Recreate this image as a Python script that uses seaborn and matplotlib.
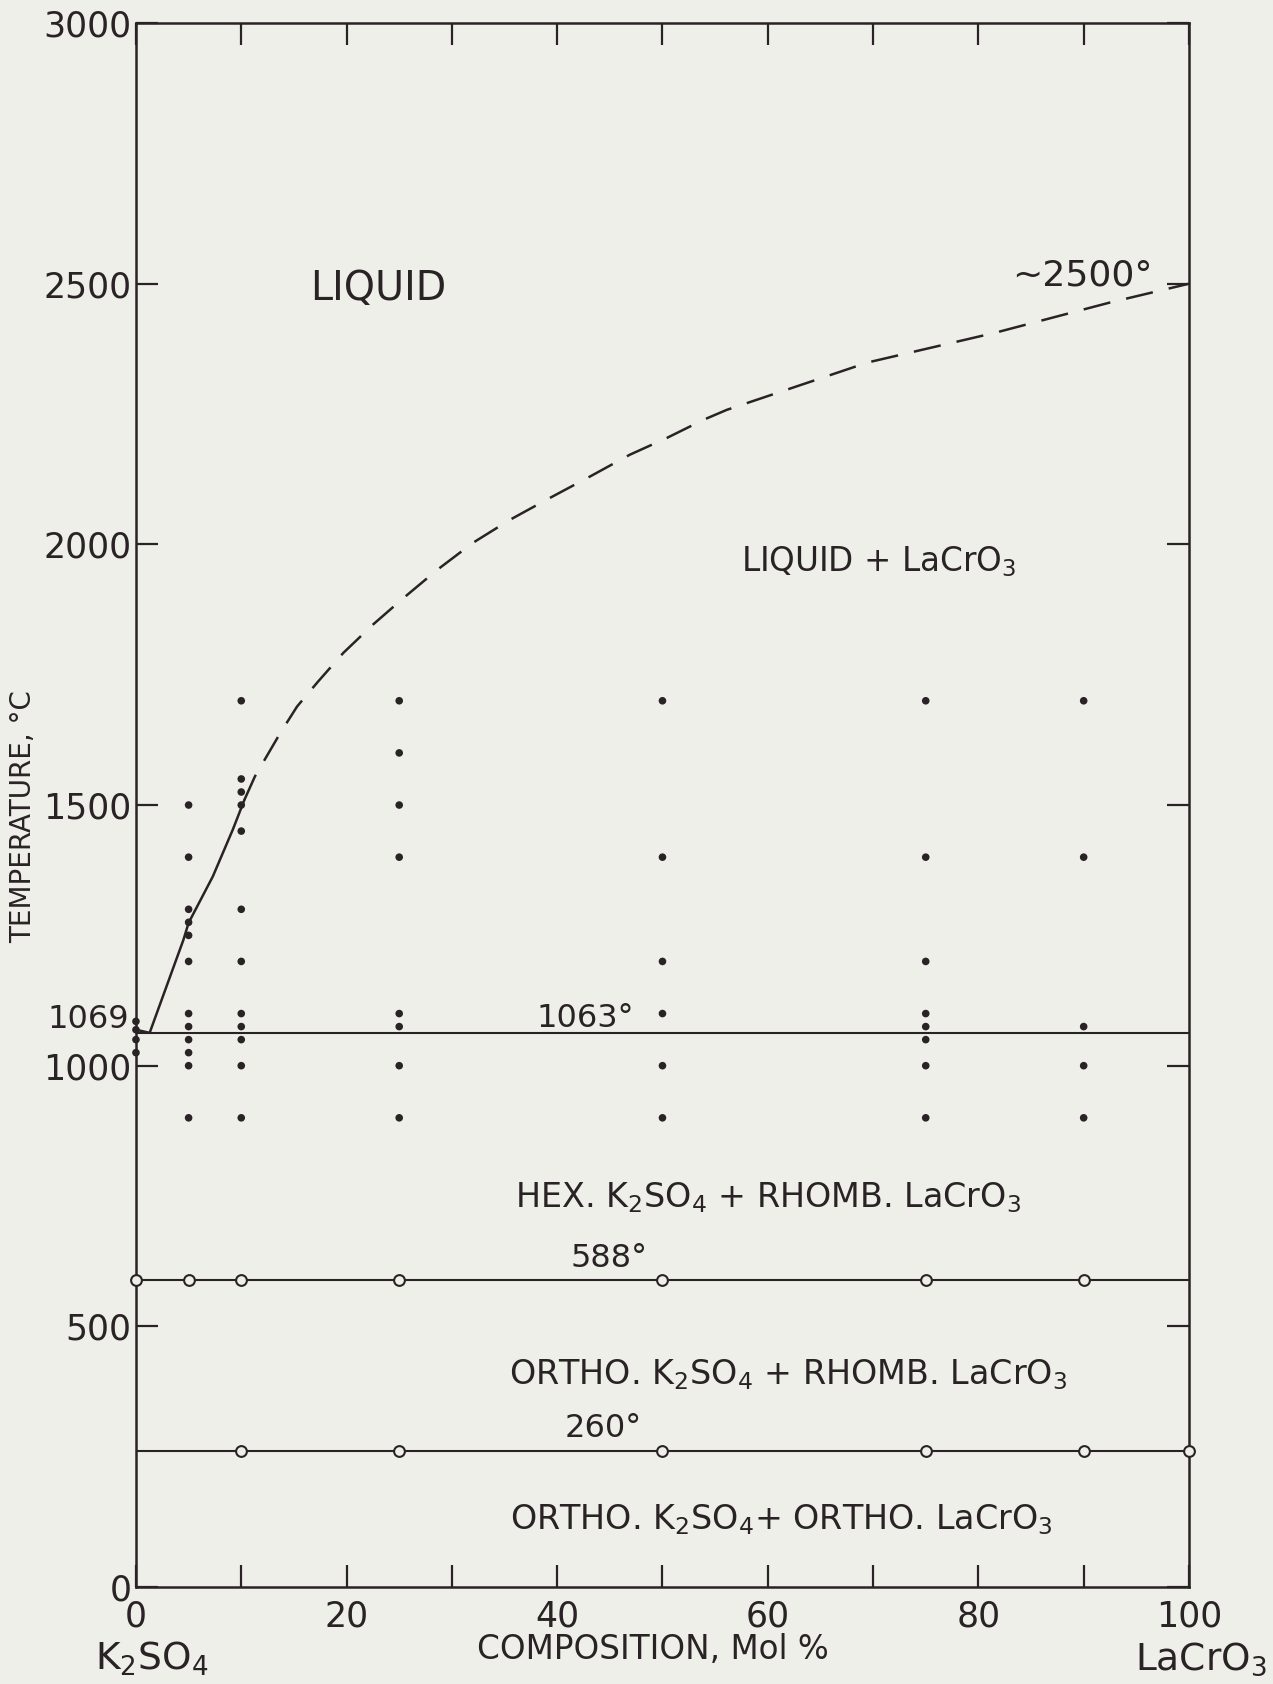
import matplotlib
matplotlib.use("Agg")
import matplotlib.pyplot as plt
import pandas as pd
import seaborn as sns

# Quench-run temperatures (deg C) at each composition (mol % LaCrO3)
comp_levels = [0, 5, 10, 25, 50, 75, 90]
runs_0 = [1025, 1050, 1069, 1085]
runs_5 = [900, 1000, 1025, 1050, 1075, 1100, 1200, 1250, 1275, 1300, 1400, 1500]
runs_10 = [900, 1000, 1050, 1075, 1100, 1200, 1300, 1450, 1500, 1525, 1550, 1700]
runs_25 = [900, 1000, 1075, 1100, 1400, 1500, 1600, 1700]
runs_50 = [900, 1000, 1100, 1200, 1400, 1700]
runs_75 = [900, 1000, 1050, 1075, 1100, 1200, 1400, 1700]
runs_90 = [900, 1000, 1075, 1400, 1700]

# Liquidus: measured part (solid) and estimated part (dashed)
liq_solid_x = [0, 1.3, 4.5, 5.0, 7.3, 9.2, 10.3]
liq_solid_t = [1069, 1063, 1241, 1274, 1363, 1453, 1510]
liq_est_x = [10.3, 11.3, 13.7, 15.3, 17.3, 19.7, 22.5, 25.4, 28.6, 32.0, 35.5,
             39.3, 43.1, 46.9, 50.4, 53.9, 56.1, 69.5, 81.6, 92.5, 100]
liq_est_t = [1510, 1555, 1638, 1689, 1737, 1792, 1846, 1897, 1951, 2003, 2047,
             2089, 2130, 2172, 2204, 2239, 2258, 2349, 2406, 2464, 2500]

# Invariant temperatures
eutectic_t = 1063
k2so4_mp = 1069
hex_ortho_t = 588
lacro3_t = 260
lacro3_mp = 2500
trans_588_x = [0, 5, 10, 25, 50, 75, 90]
trans_260_x = [10, 25, 50, 75, 90, 100]

x_ticks = list(range(0, 101, 10))
x_labels = ["0", "", "20", "", "40", "", "60", "", "80", "", "100"]
y_ticks = [0, 500, 1000, 1500, 2000, 2500, 3000]

BG = "#efefea"
INK = "#2a2325"

sns.set_theme(style="ticks", rc={
    "figure.facecolor": BG,
    "axes.facecolor": BG,
    "axes.edgecolor": INK,
    "axes.linewidth": 1.8,
    "text.color": INK,
    "xtick.color": INK,
    "ytick.color": INK,
})
plt.rcParams["font.family"] = ["DejaVu Sans"]
plt.rcParams["mathtext.fontset"] = "dejavusans"

fig = plt.figure(figsize=(12.73, 16.84), dpi=100)
ax = fig.add_axes([0.1068, 0.0576, 0.8272, 0.9287])

runs = pd.DataFrame({
    "comp": sum([[c] * len(r) for c, r in zip(comp_levels,
               [runs_0, runs_5, runs_10, runs_25, runs_50, runs_75, runs_90])], []),
    "temp": runs_0 + runs_5 + runs_10 + runs_25 + runs_50 + runs_75 + runs_90,
})

# Horizontal invariant lines
for t in (eutectic_t, hex_ortho_t, lacro3_t):
    sns.lineplot(x=[0, 100], y=[t, t], ax=ax, color=INK, lw=1.5,
                 estimator=None, zorder=2)

# Liquidus
sns.lineplot(x=liq_solid_x, y=liq_solid_t, ax=ax, color=INK, lw=1.8,
             estimator=None, sort=False, zorder=2)
sns.lineplot(x=liq_est_x, y=liq_est_t, ax=ax, color=INK, lw=1.8,
             estimator=None, sort=False, zorder=2, linestyle=(0, (11, 6.5)))

# Quench runs
sns.scatterplot(data=runs, x="comp", y="temp", ax=ax, color=INK, s=30,
                edgecolor="none", zorder=4, clip_on=False)

# Thermal-analysis points on the transitions
sns.scatterplot(x=trans_588_x, y=[hex_ortho_t] * len(trans_588_x), ax=ax,
                marker="o", s=60, facecolor=BG, edgecolor=INK, linewidth=1.5,
                zorder=5, clip_on=False)
sns.scatterplot(x=trans_260_x, y=[lacro3_t] * len(trans_260_x), ax=ax,
                marker="o", s=60, facecolor=BG, edgecolor=INK, linewidth=1.5,
                zorder=5, clip_on=False)

ax.set_xlim(0, 100)
ax.set_ylim(0, 3000)
ax.set_xticks(x_ticks)
ax.set_xticklabels(x_labels)
ax.set_yticks(y_ticks)
ax.set_yticklabels([str(v) for v in y_ticks])
ax.tick_params(axis="both", direction="in", length=16, width=1.6,
               labelsize=25, top=True, right=True)
ax.tick_params(axis="x", pad=9)
ax.tick_params(axis="y", pad=3)
ax.set_xlabel("")
ax.set_ylabel("")
for s in ax.spines.values():
    s.set_visible(True)

# Melting point of K2SO4
ax.annotate(f"{k2so4_mp}", xy=(0, k2so4_mp), xytext=(-5, 7),
            textcoords="offset points", ha="right", va="center", fontsize=23,
            annotation_clip=False)

# Field and invariant labels
fs = 24
ax.text(23.0, 2490, "LIQUID", ha="center", va="center", fontsize=28.5)
ax.text(89.9, 2515, f"~{lacro3_mp}°", ha="center", va="center", fontsize=26)
ax.text(70.5, 1967, "LIQUID + LaCrO$_3$", ha="center", va="center", fontsize=23.5)
ax.text(42.7, 1091, f"{eutectic_t}°", ha="center", va="center", fontsize=23)
ax.text(60.0, 747, "HEX. K$_2$SO$_4$ + RHOMB. LaCrO$_3$", ha="center",
        va="center", fontsize=fs)
ax.text(44.9, 630, f"{hex_ortho_t}°", ha="center", va="center", fontsize=23)
ax.text(61.9, 407, "ORTHO. K$_2$SO$_4$ + RHOMB. LaCrO$_3$", ha="center",
        va="center", fontsize=fs)
ax.text(44.4, 304, f"{lacro3_t}°", ha="center", va="center", fontsize=23)
ax.text(61.3, 130, "ORTHO. K$_2$SO$_4$+ ORTHO. LaCrO$_3$", ha="center",
        va="center", fontsize=fs)

# Axis titles and end members
fig.text(0.513, 0.0205, "COMPOSITION, Mol %", ha="center", va="center", fontsize=23.5)
fig.text(0.0185, 0.515, "TEMPERATURE, °C", ha="center", va="center",
         rotation=90, fontsize=20)
fig.text(0.119, 0.0035, "K$_2$SO$_4$", ha="center", va="bottom", fontsize=27)
fig.text(0.995, 0.0035, "LaCrO$_3$", ha="right", va="bottom", fontsize=27)

fig.savefig("out.png", dpi=100, facecolor=BG)
